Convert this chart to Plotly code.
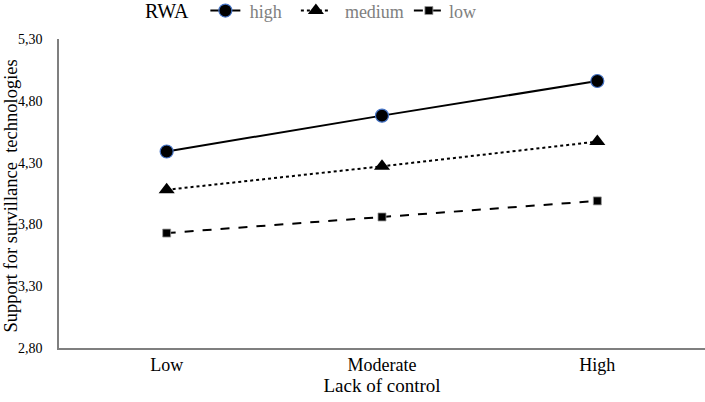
import plotly.graph_objects as go

categories = ["Low", "Moderate", "High"]
rwa_high = [4.39, 4.68, 4.96]
rwa_medium = [4.08, 4.27, 4.47]
rwa_low = [3.73, 3.86, 3.99]
y_ticks = [2.80, 3.30, 3.80, 4.30, 4.80, 5.30]
y_tick_labels = ["2,80", "3,30", "3,80", "4,30", "4,80", "5,30"]
y_title = "Support for survillance  technologies"
x_title = "Lack of control"

FONT = "Liberation Serif, Times New Roman, serif"
NB = "\u00a0"

fig = go.Figure()
fig.add_trace(go.Scatter(
    x=categories, y=rwa_high, name=NB + "high" + NB * 2, mode="lines+markers",
    line=dict(color="black", width=2, dash="solid"),
    marker=dict(symbol="circle", size=13, color="black",
                line=dict(color="#4472C4", width=1.2)),
))
fig.add_trace(go.Scatter(
    x=categories, y=rwa_medium, name=NB * 2 + "medium", mode="lines+markers",
    line=dict(color="black", width=2, dash="dot"),
    marker=dict(symbol="triangle-up", size=14, color="black"),
))
fig.add_trace(go.Scatter(
    x=categories, y=rwa_low, name="low", mode="lines+markers",
    line=dict(color="black", width=2, dash="dash"),
    marker=dict(symbol="square", size=8, color="black",
                line=dict(color="#999999", width=0.8)),
))

fig.update_layout(
    width=705, height=402,
    margin=dict(l=59, r=0, t=39, b=54, autoexpand=False),
    paper_bgcolor="white", plot_bgcolor="white",
    font=dict(family=FONT, size=17, color="black"),
    showlegend=True,
    legend=dict(
        orientation="h", x=0.203, xanchor="left", y=1.151, yanchor="top",
        yref="paper", xref="container",
        title=dict(text="RWA  ", side="left", font=dict(size=20, color="black")),
        font=dict(size=18, color="#808080"),
        bgcolor="rgba(0,0,0,0)", borderwidth=0,
    ),
    xaxis=dict(
        type="category", range=[-0.5, 2.5], automargin=False,
        showline=True, linecolor="#7f7f7f", linewidth=1.5,
        showgrid=False, zeroline=False, ticks="",
        tickfont=dict(size=18, color="black"),
        title=dict(text=x_title, font=dict(size=19), standoff=4),
    ),
    yaxis=dict(
        range=[2.8, 5.3], tickmode="array", tickvals=y_ticks, ticktext=y_tick_labels,
        automargin=False,
        showline=True, linecolor="#7f7f7f", linewidth=1.5,
        showgrid=False, zeroline=False, ticks="",
        ticklabelstandoff=12,
        tickfont=dict(size=14, color="black"),
    ),
    annotations=[dict(
        text=y_title, textangle=-90, showarrow=False,
        xref="paper", yref="paper", x=0, y=0.49,
        xanchor="center", yanchor="middle", xshift=-48,
        font=dict(size=18.5, color="black"),
    )],
)

post = "document.body.style.margin='0';"
fig.write_html("out.html", config={"displayModeBar": False}, post_script=post)
